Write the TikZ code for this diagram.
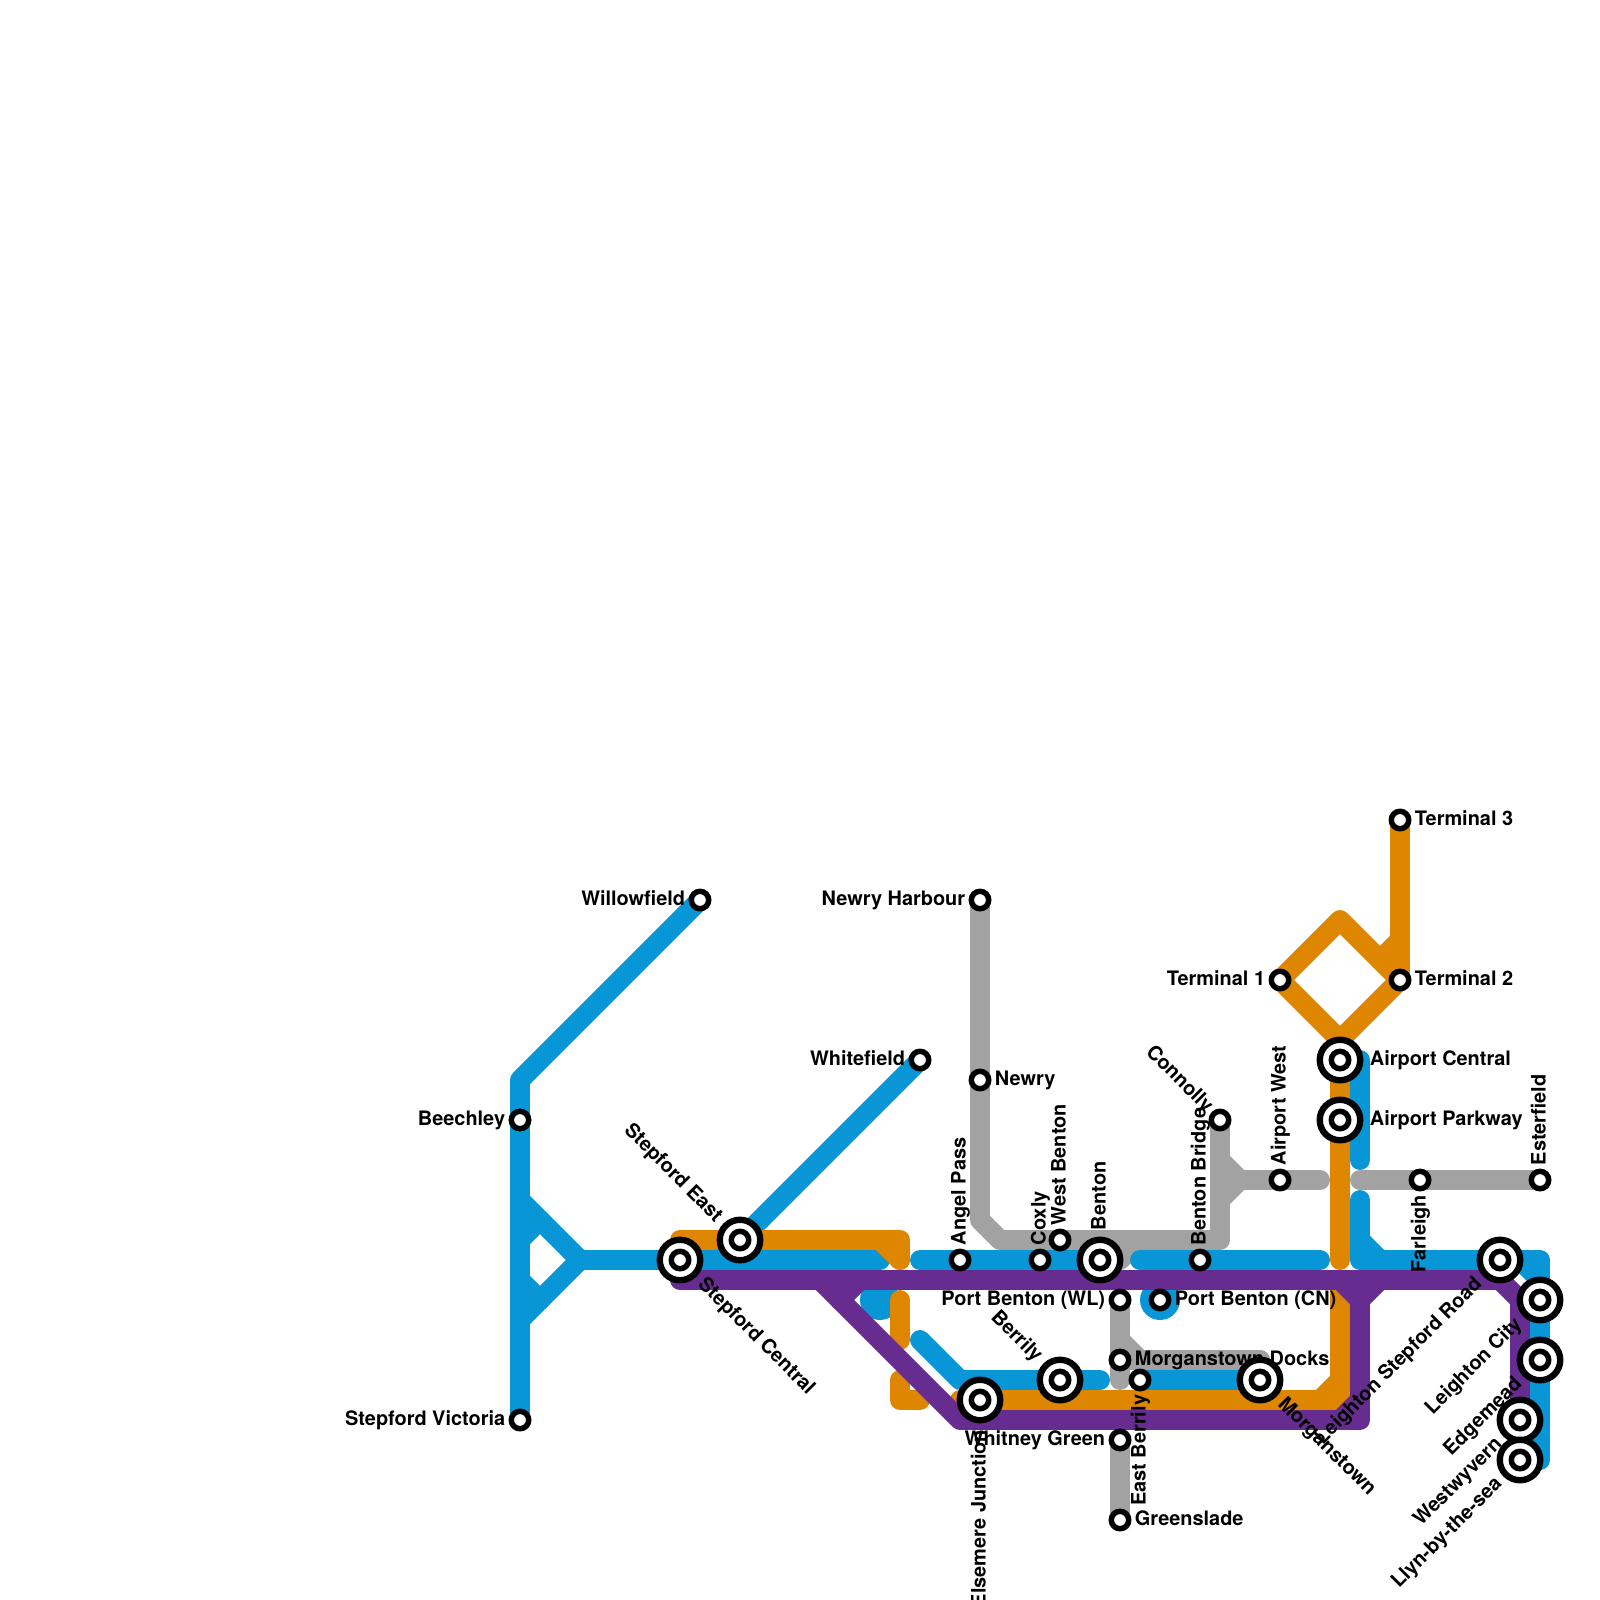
\documentclass[tikz,border=0pt]{standalone}
\usepackage{fontspec}
\setmainfont{TeX Gyre Heros}
\usetikzlibrary{positioning}
\definecolor{lineblue}{HTML}{0896D7}
\definecolor{lineorange}{HTML}{DF8600}
\definecolor{linepurple}{HTML}{662C90}
\definecolor{linegrey}{HTML}{A2A2A2}
\pgfdeclarelayer{lines}
\pgfdeclarelayer{labels}
\pgfsetlayers{lines,labels,main}
\tikzset{
  route/.style={line width=14.173pt, line cap=round, line join=round},
  stationdot/.style={circle, draw=black, fill=white, line width=3.9pt, inner sep=0pt, minimum size=12.4pt},
  interchange/.style={circle, draw=black, fill=white, line width=4.54pt, inner sep=0pt, minimum size=28.8pt},
  stname/.style={font=\fontsize{14.17}{17}\selectfont\bfseries, inner sep=0pt, outer sep=0pt},
  nearafter/.style={stname, anchor=base west, xshift=10.6pt, yshift=-4pt},
  nearbefore/.style={stname, anchor=base east, xshift=-10.6pt, yshift=-4pt},
  farafter/.style={stname, anchor=base west, xshift=21.3pt, yshift=-4pt},
  farbefore/.style={stname, anchor=base east, xshift=-21.3pt, yshift=-4pt},
}
\begin{document}
\begin{tikzpicture}[x=0.5cm, y=-0.5cm]
\useasboundingbox (0,0) rectangle (80,80);
% ==== Stations ====
\foreach \id/\x/\y in {willowfield/35/45, beechley/26/56, stepfordvictoria/26/71, whitefield/46/53,
    newryharbour/49/45, newry/49/54, angelpass/48/63, coxly/52/63, westbenton/53/62, bentonbridge/60/63,
    connolly/61/56, airportwest/64/59, portbentonwl/56/65, portbentoncn/58/65, morganstowndocks/56/68,
    eastberrily/57/69, whitneygreen/56/72, greenslade/56/76, terminalone/64/49, terminaltwo/70/49,
    terminalthree/70/41, farleigh/71/59, esterfield/77/59}
  \node[stationdot] (\id) at (\x,\y) {};
\foreach \id/\x/\y in {stepfordcentral/34/63, stepfordeast/37/62, elsemere/49/70, berrily/53/69,
    benton/55/63, morganstown/63/69, airportcentral/67/53, airportparkway/67/56, leightonroad/75/63,
    leightoncity/77/65, edgemead/77/68, westwyvern/76/71, llyn/76/73} {
  \node[interchange] (\id) at (\x,\y) {};
  \node[stationdot] (\id inner) at (\x,\y) {};
}
% free line ends
\foreach \pt/\x/\y in {forka/26/60, forkb/26/66, forkc/29/63, stuba/26/62, stubb/27/61, stubc/26/64, stubd/27/65,
    blueend/44/63, blueangel/46/63, blueport/57/63, bluerun/66/63, bluelow/46/67, blueberrily/55/69,
    blueair/68/53, blueairend/68/58, bluefar/68/60, cornera/68/62, cornerb/69/63, cornerc/76/63, cornerd/77/64,
    bluedot/44/65,
    greyjoin/61/59, greyend/66/59, greyfar/68/59, greytop/57/62, greywedge/56/63, greylow/56/69, greyfork/56/67,
    greyfill/56/68, greydock/63/68, greytopa/61/58, greytopb/62/59, greytopc/61/60,
    orangestart/34/62, orangebend/45/63, orangediag/44/62, orangelow/45/65, orangestop/45/67, orangeblock/45/69,
    orangeblockend/46/70, orangerun/48/70, orangeup/67/64,
    orangetip/67/63, orangecuta/66/70, orangecutb/67/69, orangeforka/69/48, orangeforkb/70/47, orangeapex/67/52,
    purplestart/34/64, purplerow/75/64, purplelow/76/71, purplefork/41/64, purplesta/42/65, purplestb/43/64,
    purpleup/68/64, purplesqa/67/64, purplesqb/68/65, purplesqc/69/64, purplecuta/67/71, purplecutb/68/70}
  \coordinate (\pt) at (\x,\y);

\begin{pgfonlayer}{lines}
% ==== Grey line ====
\draw[route, linegrey] (newryharbour.center) -- (49,61) -- (50,62) -- (61,62) -- (connolly.center);
\draw[route, linegrey] (greyjoin) -- (greyend);
\draw[route, linegrey] (greytopa) -- (greytopb) -- (greytopc);
\draw[route, linegrey] (greyfar) -- (esterfield.center);
\draw[route, linegrey] (greytop) -- (greywedge);
\draw[route, linegrey] (portbentonwl.center) -- (greylow);
\draw[route, linegrey] (greyfork) -- (57,68) -- (greydock);
\draw[route, linegrey] (greyfill) -- (greydock);
\draw[route, linegrey] (whitneygreen.center) -- (greenslade.center);
% ==== Blue line ====
\draw[route, lineblue] (willowfield.center) -- (26,54) -- (stepfordvictoria.center);
\draw[route, lineblue] (forka) -- (forkc) -- (forkb);
\draw[route, lineblue] (stuba) -- (stubb);
\draw[route, lineblue] (stubc) -- (stubd);
\draw[route, lineblue] (forkc) -- (blueend);
\draw[route, lineblue] (stepfordeast.center) -- (whitefield.center);
\draw[route, lineblue] (blueangel) -- (benton.center);
\draw[route, lineblue] (blueport) -- (bluerun);
\draw[route, lineblue] (bluelow) -- (48,69) -- (blueberrily);
\draw[route, lineblue] (eastberrily.center) -- (morganstown.center);
\draw[route, lineblue] (blueair) -- (blueairend);
\draw[route, lineblue] (bluefar) -- (68,63) -- (77,63) -- (77,73) -- (llyn.center);
\draw[route, lineblue] (cornera) -- (cornerb);
\draw[route, lineblue] (cornerc) -- (cornerd);
\fill[lineblue] (bluedot) circle (1);
\fill[lineblue] (portbentoncn.center) circle (1);
% ==== Orange line ====
\draw[route, lineorange] (orangestart) -- (45,62) -- (orangebend);
\draw[route, lineorange] (orangediag) -- (orangebend);
\draw[route, lineorange] (orangelow) -- (orangestop);
\draw[route, lineorange] (orangeblock) -- (45,70) -- (orangeblockend);
\draw[route, lineorange] (orangerun) -- (67,70) -- (orangeup);
\draw[route, lineorange] (orangecuta) -- (orangecutb);
\draw[route, lineorange] (terminalone.center) -- (67,46) -- (terminaltwo.center) -- (orangeapex) -- (terminalone.center);
\draw[route, lineorange] (terminalthree.center) -- (terminaltwo.center);
\draw[route, lineorange] (orangeforka) -- (orangeforkb);
\draw[route, lineorange] (orangeapex) -- (orangetip);
% ==== Purple line ====
\draw[route, linepurple] (purplestart) -- (purplerow) -- (76,65) -- (purplelow);
\draw[route, linepurple] (purplefork) -- (48,71) -- (68,71) -- (purpleup);
\draw[route, linepurple] (purplesta) -- (purplestb);
\draw[route, linepurple] (purplesqa) -- (purplesqb) -- (purplesqc);
\draw[route, linepurple] (purplecuta) -- (purplecutb);
\end{pgfonlayer}

\begin{pgfonlayer}{labels}
% ==== Names left of the station ====
\node[nearbefore] (lbwillowfield) at (willowfield) {Willowfield};
\node[nearbefore] (lbbeechley) at (beechley) {Beechley};
\node[nearbefore] (lbvictoria) at (stepfordvictoria) {Stepford Victoria};
\node[nearbefore] (lbwhitefield) at (whitefield) {Whitefield};
\node[nearbefore] (lbharbour) at (newryharbour) {Newry Harbour};
\node[nearbefore] (lbtermone) at (terminalone) {Terminal 1};
\node[nearbefore] (lbwl) at (portbentonwl) {Port Benton (WL)};
\node[nearbefore] (lbwhitney) at (whitneygreen) {Whitney Green};
% ==== Names right of the station ====
\node[nearafter] (lbnewry) at (newry) {Newry};
\node[nearafter] (lbcn) at (portbentoncn) {Port Benton (CN)};
\node[nearafter] (lbdocks) at (morganstowndocks) {Morganstown Docks};
\node[nearafter] (lbgreenslade) at (greenslade) {Greenslade};
\node[nearafter] (lbtermtwo) at (terminaltwo) {Terminal 2};
\node[nearafter] (lbtermthree) at (terminalthree) {Terminal 3};
\node[farafter] (lbaircentral) at (airportcentral) {Airport Central};
\node[farafter] (lbairparkway) at (airportparkway) {Airport Parkway};
% ==== Turned names ====
\node[rotate=90, nearafter] (lbangel) at (angelpass) {Angel Pass};
\node[rotate=90, nearafter] (lbcoxly) at (coxly) {Coxly};
\node[rotate=90, nearafter] (lbwestbenton) at (westbenton) {West Benton};
\node[rotate=90, farafter] (lbbenton) at (benton) {Benton};
\node[rotate=90, nearafter] (lbbridge) at (bentonbridge) {Benton Bridge};
\node[rotate=90, nearafter] (lbairwest) at (airportwest) {Airport West};
\node[rotate=90, nearafter] (lbesterfield) at (esterfield) {Esterfield};
\node[rotate=90, nearbefore] (lbfarleigh) at (farleigh) {Farleigh};
\node[rotate=90, nearbefore] (lbeast) at (eastberrily) {East Berrily};
\node[rotate=90, farbefore] (lbelsemere) at (elsemere) {Elsemere Junction};
\node[rotate=-45, farafter] (lbcentral) at (stepfordcentral) {Stepford Central};
\node[rotate=-45, farafter] (lbmorganstown) at (morganstown) {Morganstown};
\node[rotate=-45, farbefore] (lbeastst) at (stepfordeast) {Stepford East};
\node[rotate=-45, farbefore] (lbberrily) at (berrily) {Berrily};
\node[rotate=-45, nearbefore] (lbconnolly) at (connolly) {Connolly};
\node[rotate=45, farbefore] (lbroad) at (leightonroad) {Leighton Stepford Road};
\node[rotate=45, farbefore] (lbcity) at (leightoncity) {Leighton City};
\node[rotate=45, farbefore] (lbedgemead) at (edgemead) {Edgemead};
\node[rotate=45, farbefore] (lbwestwyvern) at (westwyvern) {Westwyvern};
\node[rotate=45, farbefore] (lbllyn) at (llyn) {Llyn-by-the-sea};
\end{pgfonlayer}
\end{tikzpicture}
\end{document}
